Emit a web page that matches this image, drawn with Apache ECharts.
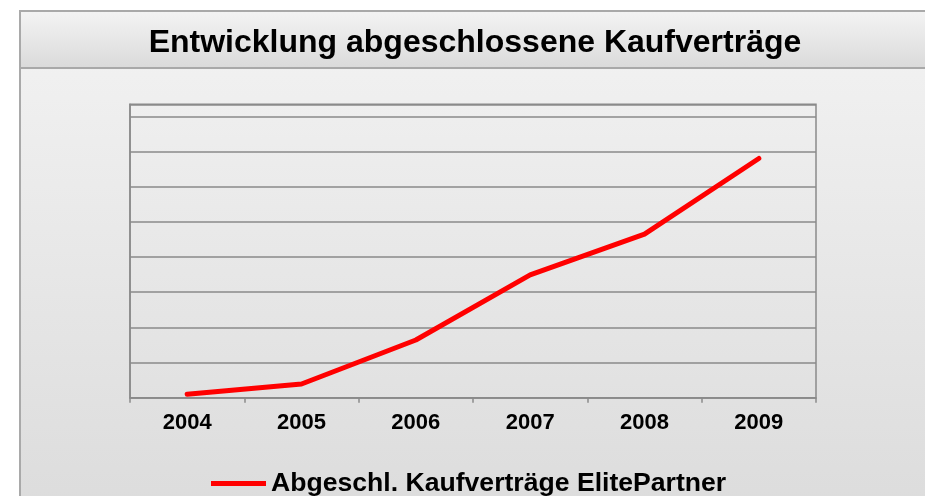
<!DOCTYPE html>
<html>
<head>
<meta charset="utf-8">
<style>
  html, body { margin: 0; padding: 0; background: #ffffff; }
  #chart { width: 925px; height: 496px; }
</style>
<script src="https://cdn.jsdelivr.net/npm/echarts@6/dist/echarts.min.js"></script>
</head>
<body>
<div id="chart"></div>
<script>
// ---- Data ----
var titleText = 'Entwicklung abgeschlossene Kaufverträge';
var seriesName = 'Abgeschl. Kaufverträge ElitePartner';
var years = ['2004', '2005', '2006', '2007', '2008', '2009'];
// y-axis has no labels in the reference; values read as gridline units
var contracts = [0.1, 0.39, 1.64, 3.49, 4.65, 6.8];
var yMin = 0;
var yMax = 8.34;
var yInterval = 1;

var FONT = '"Liberation Sans", Arial, sans-serif';

var chart = echarts.init(document.getElementById('chart'), null, { renderer: 'canvas' });

var option = {
  backgroundColor: '#ffffff',
  animation: false,
  graphic: [
    {
      type: 'rect', z: -10, silent: true,
      shape: { x: 20, y: 11, width: 920, height: 500 },
      style: {
        fill: new echarts.graphic.LinearGradient(0, 0, 0, 1, [
          { offset: 0, color: '#f3f3f3' },
          { offset: 1, color: '#dcdcdc' }
        ]),
        stroke: '#a9a9a9', lineWidth: 2
      }
    },
    {
      type: 'rect', z: -9, silent: true,
      shape: { x: 20, y: 11, width: 920, height: 57 },
      style: {
        fill: new echarts.graphic.LinearGradient(0, 0, 0, 1, [
          { offset: 0, color: '#f4f4f4' },
          { offset: 1, color: '#dadada' }
        ]),
        stroke: '#a9a9a9', lineWidth: 2
      }
    },
    {
      type: 'text', z: 10, silent: true,
      x: 475, y: 43,
      style: {
        text: titleText,
        fill: '#000000',
        font: 'bold 32px ' + FONT,
        textAlign: 'center',
        textVerticalAlign: 'middle'
      }
    }
  ],
  grid: {
    left: 130, right: 109, top: 104.3, bottom: 98.3,
    show: true,
    borderColor: '#8a8a8a',
    borderWidth: 1.5,
    backgroundColor: 'transparent'
  },
  legend: {
    left: 211,
    top: 470,
    padding: 0,
    itemWidth: 55,
    itemHeight: 5,
    icon: 'rect',
    data: [seriesName],
    textStyle: { fontFamily: FONT, fontWeight: 'bold', fontSize: 26.6, color: '#000000' }
  },
  xAxis: {
    type: 'category',
    data: years,
    boundaryGap: true,
    axisLine: { show: true, lineStyle: { color: '#8a8a8a', width: 1.5 } },
    axisTick: { show: true, length: 5, lineStyle: { color: '#8a8a8a', width: 1.5 } },
    axisLabel: { margin: 14, fontFamily: FONT, fontWeight: 'bold', fontSize: 22, color: '#000000' },
    splitLine: { show: false }
  },
  yAxis: {
    type: 'value',
    min: yMin, max: yMax, interval: yInterval,
    axisLine: { show: true, lineStyle: { color: '#8a8a8a', width: 1.5 } },
    axisTick: { show: false },
    axisLabel: { show: false },
    splitLine: { show: true, lineStyle: { color: '#8a8a8a', width: 1.5 } }
  },
  series: [
    {
      name: seriesName,
      type: 'line',
      data: contracts,
      symbol: 'none',
      smooth: false,
      lineStyle: { color: '#ff0000', width: 5, cap: 'round', join: 'round' },
      itemStyle: { color: '#ff0000' }
    }
  ]
};

chart.setOption(option);
</script>
</body>
</html>
